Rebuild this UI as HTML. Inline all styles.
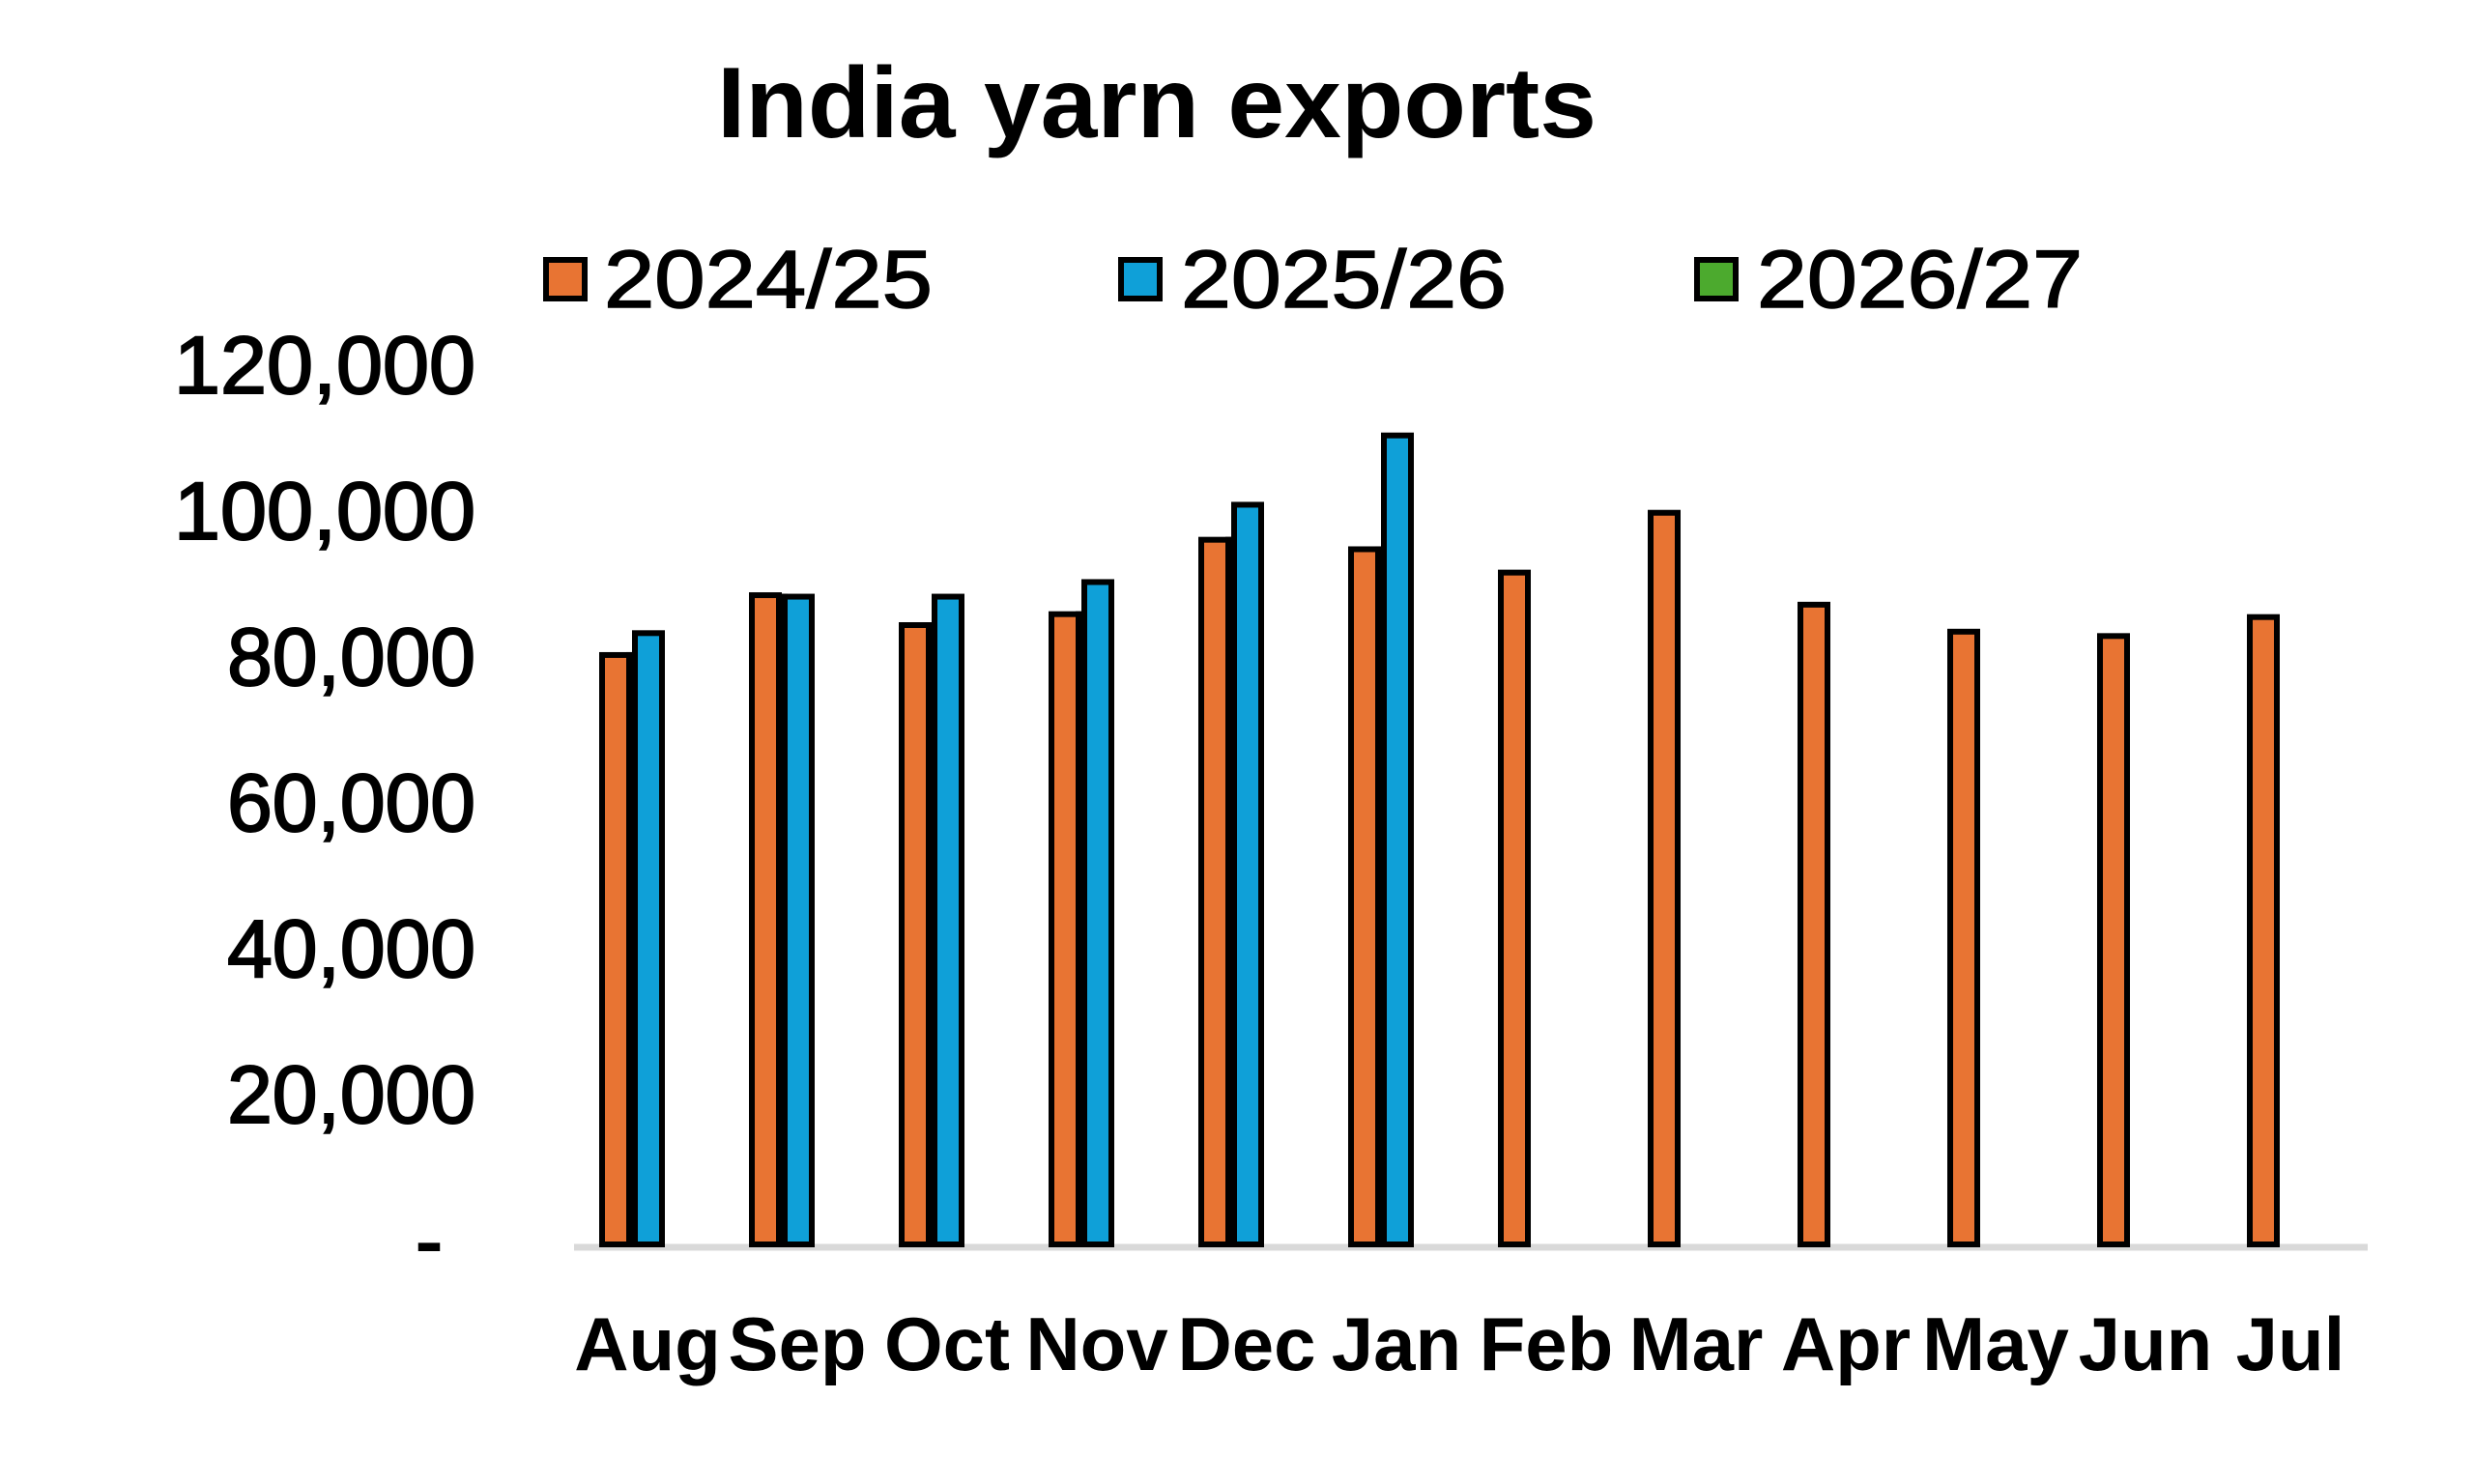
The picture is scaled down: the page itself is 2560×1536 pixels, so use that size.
<!DOCTYPE html>
<html><head><meta charset="utf-8"><style>
html,body{margin:0;padding:0;background:#fff;}
svg{display:block;}
text{font-family:"Liberation Sans",sans-serif;fill:#000;}
</style></head><body>
<svg width="2560" height="1536" viewBox="0 0 2560 1536" xmlns="http://www.w3.org/2000/svg">
<text x="1197" y="142" font-size="104" font-weight="bold" text-anchor="middle" textLength="910" lengthAdjust="spacingAndGlyphs">India yarn exports</text>
<g stroke="#000" stroke-width="6">
<rect x="565" y="269" width="40" height="40" fill="#E87433"/>
<rect x="1160" y="269" width="40" height="40" fill="#0FA0D8"/>
<rect x="1756" y="269" width="40" height="40" fill="#4CAA2E"/>
</g>
<g font-size="84" stroke="#000" stroke-width="1.5">
<text x="625" y="318" textLength="340" lengthAdjust="spacingAndGlyphs">2024/25</text>
<text x="1222" y="318" textLength="337" lengthAdjust="spacingAndGlyphs">2025/26</text>
<text x="1818" y="318" textLength="337" lengthAdjust="spacingAndGlyphs">2026/27</text>
</g>
<g font-size="84" text-anchor="end" stroke="#000" stroke-width="2">
<text x="492" y="407" textLength="312" lengthAdjust="spacingAndGlyphs">120,000</text>
<text x="492" y="558" textLength="312" lengthAdjust="spacingAndGlyphs">100,000</text>
<text x="492" y="709">80,000</text>
<text x="492" y="860">60,000</text>
<text x="492" y="1011">40,000</text>
<text x="492" y="1162">20,000</text>
<text x="458" y="1313">-</text>
</g>
<line x1="594" y1="1291" x2="2450" y2="1291" stroke="#d9d9d9" stroke-width="7"/>
<g stroke="#000" stroke-width="6" id="bars"></g>
<g font-size="78" font-weight="bold" text-anchor="middle" id="months"></g>
<script>
var o=[80800,89000,84900,86400,96600,95300,92100,100300,87700,84000,83400,86000];
var b=[83800,88800,88800,90800,101400,110900];
var m=["Aug","Sep","Oct","Nov","Dec","Jan","Feb","Mar","Apr","May","Jun","Jul"];
function y(v){return 1288-v*151/20000;}
var g=document.getElementById('bars'),t=document.getElementById('months'),ns="http://www.w3.org/2000/svg";
for(var i=0;i<12;i++){
 var x=623+155*i;
 var r=document.createElementNS(ns,'rect');
 r.setAttribute('x',x);r.setAttribute('y',y(o[i]));r.setAttribute('width',28);r.setAttribute('height',1288-y(o[i]));r.setAttribute('fill','#E87433');g.appendChild(r);
 if(i<6){var r2=document.createElementNS(ns,'rect');
 r2.setAttribute('x',x+34);r2.setAttribute('y',y(b[i]));r2.setAttribute('width',28);r2.setAttribute('height',1288-y(b[i]));r2.setAttribute('fill','#0FA0D8');g.appendChild(r2);
 var f=document.createElementNS(ns,'rect');f.setAttribute('x',x+28);f.setAttribute('y',y(Math.min(o[i],b[i])));f.setAttribute('width',6);f.setAttribute('height',1288-y(Math.min(o[i],b[i])));f.setAttribute('fill','#000');g.appendChild(f);}
 var tx=document.createElementNS(ns,'text');tx.setAttribute('x',i==11?2370:670+155*i);tx.setAttribute('y',1418);tx.textContent=m[i];t.appendChild(tx);
}
</script>
</svg>
</body></html>
